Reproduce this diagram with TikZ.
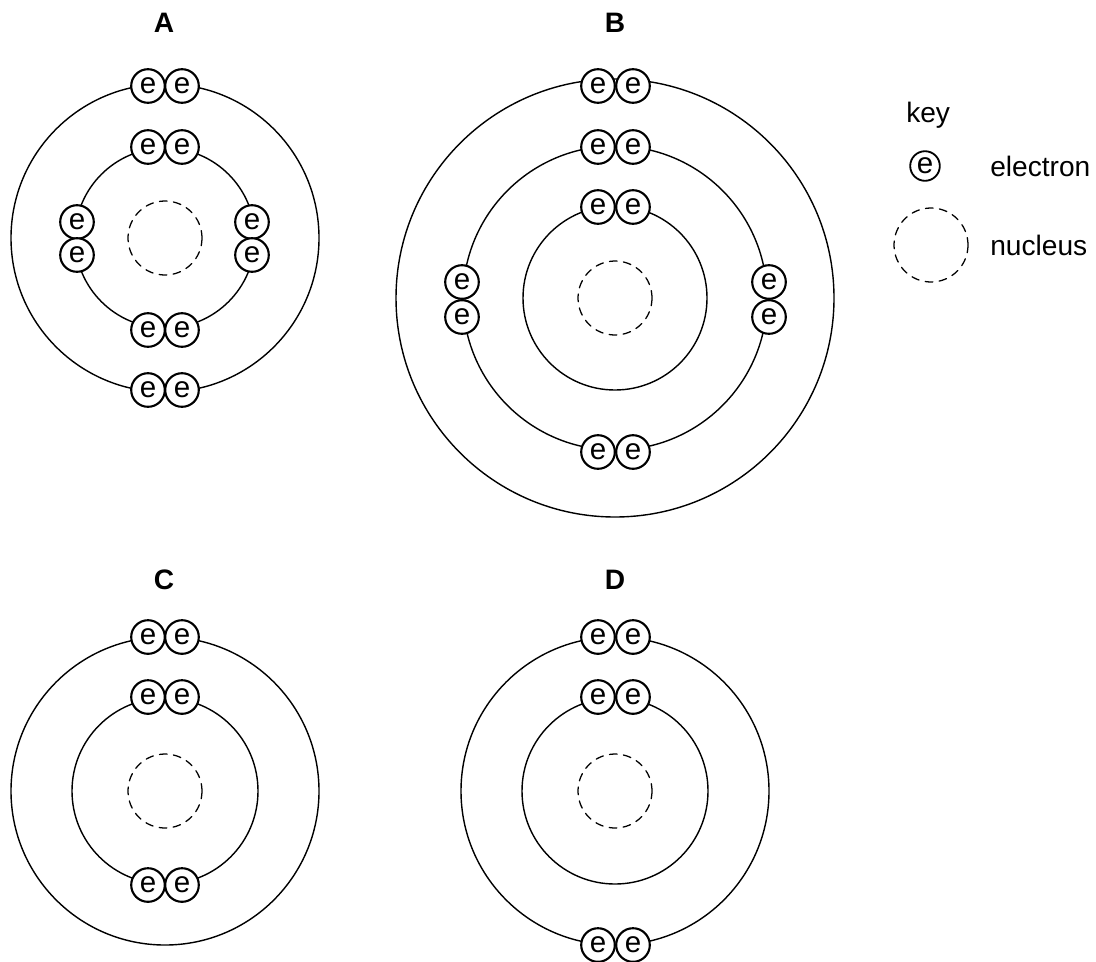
\documentclass[tikz,border=0pt]{standalone}
\usepackage{fontspec}
\setmainfont{Liberation Sans}
\usepackage{tikz}
\usetikzlibrary{calc}

\begin{document}
\begin{tikzpicture}[x=0.025cm, y=-0.025cm, line cap=round, line join=round,
  orbita/.style={line width=1pt},
  nucleo/.style={line width=0.9pt, dash pattern=on 5.5pt off 4.5pt},
  elettrone/.style={circle, draw, fill=white, line width=1.5pt, minimum size=0.84cm, inner sep=0pt, font=\fontsize{21}{24}\selectfont},
  etichetta/.style={font=\fontsize{20}{24}\selectfont\bfseries},
  testo/.style={font=\fontsize{20}{24}\selectfont, inner sep=0pt}]
  \useasboundingbox (0,0) rectangle (1096,961);

  % atomo A
  \coordinate (A) at (165,238);
  \node[etichetta] (labA) at (164,23) {A};
  \draw[orbita] (A) circle[radius=154];
  \draw[orbita] (A) circle[radius=90];
  \draw[nucleo] (A) circle[radius=37];
  \node[elettrone] (eA1) at (148,86) {e};
  \node[elettrone] (eA2) at (182,86) {e};
  \node[elettrone] (eA3) at (148,147) {e};
  \node[elettrone] (eA4) at (182,147) {e};
  \node[elettrone] (eA5) at (77,222) {e};
  \node[elettrone] (eA6) at (77,255) {e};
  \node[elettrone] (eA7) at (252,222) {e};
  \node[elettrone] (eA8) at (252,255) {e};
  \node[elettrone] (eA9) at (148,330) {e};
  \node[elettrone] (eA10) at (182,330) {e};
  \node[elettrone] (eA11) at (148,390) {e};
  \node[elettrone] (eA12) at (182,390) {e};

  % atomo B
  \coordinate (B) at (615,298);
  \node[etichetta] (labB) at (615,23) {B};
  \draw[orbita] (B) circle[radius=219];
  \draw[orbita] (B) circle[radius=152];
  \draw[orbita] (B) circle[radius=92];
  \draw[nucleo] (B) circle[radius=37];
  \node[elettrone] (eB1) at (598,86) {e};
  \node[elettrone] (eB2) at (633,86) {e};
  \node[elettrone] (eB3) at (598,147) {e};
  \node[elettrone] (eB4) at (633,147) {e};
  \node[elettrone] (eB5) at (598,207) {e};
  \node[elettrone] (eB6) at (633,207) {e};
  \node[elettrone] (eB7) at (462,282) {e};
  \node[elettrone] (eB8) at (462,317) {e};
  \node[elettrone] (eB9) at (769,282) {e};
  \node[elettrone] (eB10) at (769,317) {e};
  \node[elettrone] (eB11) at (598,452) {e};
  \node[elettrone] (eB12) at (633,452) {e};

  % atomo C
  \coordinate (C) at (165,791);
  \node[etichetta] (labC) at (164,580) {C};
  \draw[orbita] (C) circle[radius=154];
  \draw[orbita] (C) circle[radius=93];
  \draw[nucleo] (C) circle[radius=37];
  \node[elettrone] (eC1) at (148,637) {e};
  \node[elettrone] (eC2) at (182,637) {e};
  \node[elettrone] (eC3) at (148,697) {e};
  \node[elettrone] (eC4) at (182,697) {e};
  \node[elettrone] (eC5) at (148,885) {e};
  \node[elettrone] (eC6) at (182,885) {e};

  % atomo D
  \coordinate (D) at (615,791);
  \node[etichetta] (labD) at (615,580) {D};
  \draw[orbita] (D) circle[radius=154];
  \draw[orbita] (D) circle[radius=93];
  \draw[nucleo] (D) circle[radius=37];
  \node[elettrone] (eD1) at (598,637) {e};
  \node[elettrone] (eD2) at (633,637) {e};
  \node[elettrone] (eD3) at (598,697) {e};
  \node[elettrone] (eD4) at (633,697) {e};
  \node[elettrone] (eD5) at (598,945) {e};
  \node[elettrone] (eD6) at (633,945) {e};

  % legenda
  \node[testo, anchor=base west] (key) at (906,122) {key};
  \node[elettrone, minimum size=0.74cm, line width=1.3pt] (keyE) at (925,166) {e};
  \node[testo, anchor=west] (keyEtxt) at (990,166) {electron};
  \coordinate (keyN) at (931,245);
  \draw[nucleo] (keyN) circle[radius=37];
  \node[testo, anchor=west] (keyNtxt) at (990,245) {nucleus};
\end{tikzpicture}
\end{document}
